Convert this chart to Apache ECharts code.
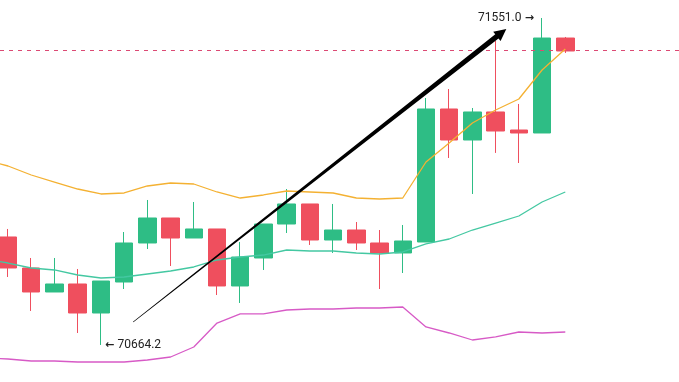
<!DOCTYPE html>
<html>
<head>
<meta charset="utf-8">
<script src="https://cdn.jsdelivr.net/npm/echarts@6/dist/echarts.min.js"></script>
<style>html,body{margin:0;padding:0;background:#fff;}#c{width:679px;height:382px;}</style>
</head>
<body>
<div id="c"></div>
<script>
// ---- data ----
const categories = ['09:00','09:15','09:30','09:45','10:00','10:15','10:30','10:45','11:00','11:15','11:30','11:45','12:00','12:15','12:30','12:45','13:00','13:15','13:30','13:45','14:00','14:15','14:30','14:45','15:00','15:15','15:30','15:45','16:00','16:15','16:30'];
// [open, close, low, high]
const candles = [
  [70990.0, 70957.1, 70930.0, 71005.0],
  [70957.1, 70873.0, 70848.6, 70978.8],
  [70873.0, 70807.9, 70756.4, 70900.1],
  [70807.9, 70829.6, 70807.9, 70900.1],
  [70829.6, 70750.9, 70696.7, 70870.3],
  [70750.9, 70837.7, 70664.2, 70837.7],
  [70835.0, 70940.8, 70816.0, 70970.6],
  [70940.8, 71008.6, 70924.5, 71057.4],
  [71008.6, 70954.3, 70878.4, 71008.6],
  [70954.3, 70978.8, 70954.3, 71052.0],
  [70978.8, 70824.2, 70799.7, 70978.8],
  [70824.2, 70902.8, 70778.1, 70943.5],
  [70900.1, 70992.3, 70867.6, 70992.3],
  [70992.3, 71046.6, 70967.9, 71087.2],
  [71046.6, 70948.9, 70935.4, 71046.6],
  [70948.9, 70976.0, 70913.7, 71046.6],
  [70976.0, 70940.8, 70921.8, 70997.7],
  [70940.8, 70913.7, 70816.0, 70976.0],
  [70913.7, 70946.2, 70859.4, 70989.6],
  [70943.5, 71304.2, 70943.5, 71334.0],
  [71304.2, 71220.1, 71171.3, 71358.4],
  [71220.1, 71296.1, 71073.7, 71306.9],
  [71296.1, 71244.5, 71185.1, 71488.6],
  [71247.2, 71239.1, 71157.7, 71317.8],
  [71239.1, 71496.7, 71239.1, 71551.0],
  [71496.7, 71461.5, 71456.1, 71499.5]
];
const midBand = [70897.4, 70886.5, 70873.0, 70867.6, 70854.0, 70845.9, 70848.6, 70856.7, 70864.8, 70875.7, 70894.7, 70902.8, 70908.2, 70921.8, 70919.1, 70919.1, 70913.7, 70911.0, 70916.4, 70938.1, 70951.6, 70976.0, 70995.0, 71014.0, 71052.0, 71079.1];
const upperBand = [71165.9, 71149.6, 71125.2, 71106.2, 71087.2, 71073.7, 71076.4, 71095.4, 71103.5, 71100.8, 71079.1, 71062.8, 71071.0, 71081.8, 71079.1, 71076.4, 71062.8, 71060.1, 71062.8, 71160.5, 71212.0, 71266.3, 71301.5, 71331.3, 71410.0, 71466.9];
const lowerBand = [70628.9, 70626.2, 70620.8, 70620.8, 70618.1, 70618.1, 70618.1, 70623.5, 70631.6, 70658.7, 70723.7, 70748.4, 70748.4, 70759.1, 70761.8, 70761.8, 70764.5, 70764.5, 70767.2, 70713.0, 70696.7, 70677.7, 70685.9, 70699.4, 70696.7, 70699.4];
const highMark = { index: 24, value: 71551.0, text: '71551.0', arrow: '\u2192' };
const lowMark = { index: 5, value: 70664.2, text: '70664.2', arrow: '\u2190' };
const lastPrice = 71461.5;
// trend arrow drawn by hand on the chart: [category position, price]
const arrowStart = [6.39, 70726.5];
const arrowEnd = [22.46, 71521.2];
const legendTexts = ['MID:71079.1', 'UP:71466.9', 'DN:70699.4'];

const UP = '#2ebd85', DOWN = '#ef4f5e';
const labelRich = {
  t: { color: '#222', fontSize: 12, fontFamily: 'Roboto' },
  a: { color: '#222', fontSize: 11, fontFamily: 'DejaVu Sans', fontWeight: 'bold' }
};
const chart = echarts.init(document.getElementById('c'), null, { renderer: 'canvas' });
const option = {
  animation: false,
  backgroundColor: '#ffffff',
  grid: { left: -26.8, right: -14, top: 0, bottom: 0, outerBoundsMode: 'none', containLabel: false },
  xAxis: { type: 'category', data: categories, boundaryGap: true, show: false },
  yAxis: { type: 'value', min: 70563.8, max: 71599.8, show: false, splitLine: { show: false } },
  series: [
    {
      type: 'candlestick', data: candles, barWidth: 18,
      itemStyle: { color: UP, color0: DOWN, borderColor: UP, borderColor0: DOWN, borderWidth: 1 },
      markPoint: {
        symbol: 'circle', symbolSize: 0, silent: true,
        data: [
          { coord: [highMark.index, highMark.value], label: { show: true, position: 'left', distance: 8, formatter: '{t|' + highMark.text + '} {a|' + highMark.arrow + '}', rich: labelRich } },
          { coord: [lowMark.index, lowMark.value], label: { show: true, position: 'right', distance: 4, formatter: '{a|' + lowMark.arrow + '} {t|' + lowMark.text + '}', rich: labelRich } }
        ]
      }
    },
    { type: 'line', data: midBand, symbol: 'none', lineStyle: { color: '#44c8a2', width: 1.3 } },
    { type: 'line', data: upperBand, symbol: 'none', lineStyle: { color: '#f4b132', width: 1.3 } },
    { type: 'line', data: lowerBand, symbol: 'none', lineStyle: { color: '#d75ac6', width: 1.3 } }
  ]
};
chart.setOption(option);

function toPx(pt) {
  const i0 = Math.floor(pt[0]);
  const a = chart.convertToPixel({ gridIndex: 0 }, [i0, pt[1]]);
  const b = chart.convertToPixel({ gridIndex: 0 }, [i0 + 1, pt[1]]);
  const f = pt[0] - i0;
  return [a[0] + (b[0] - a[0]) * f, a[1]];
}
const p0 = toPx(arrowStart), p1 = toPx(arrowEnd);
const dx = p1[0] - p0[0], dy = p1[1] - p0[1];
const len = Math.sqrt(dx * dx + dy * dy);
const ux = dx / len, uy = dy / len, nx = -uy, ny = ux;
const headLen = 12, headW = 6, shaftEnd = 2.6, shaftStart = 0.3;
const hb = [p1[0] - ux * headLen, p1[1] - uy * headLen];
const pts = [
  [p0[0] + nx * shaftStart, p0[1] + ny * shaftStart],
  [hb[0] + nx * shaftEnd, hb[1] + ny * shaftEnd],
  [hb[0] + nx * headW, hb[1] + ny * headW],
  [p1[0], p1[1]],
  [hb[0] - nx * headW, hb[1] - ny * headW],
  [hb[0] - nx * shaftEnd, hb[1] - ny * shaftEnd],
  [p0[0] - nx * shaftStart, p0[1] - ny * shaftStart]
];
const lastY = Math.floor(chart.convertToPixel({ yAxisIndex: 0 }, lastPrice));
const legendColors = ['#44c8a2', '#f4b132', '#d75ac6'];
const legendX = [0, 69, 137];
const dashes = [];
for (let x = 0; x < 679; x += 9) {
  dashes.push({ type: 'rect', shape: { x: x, y: lastY, width: 4, height: 1 }, style: { fill: '#dc4a74' }, z: 50, silent: true });
}
chart.setOption({
  graphic: dashes.concat([
    { type: 'polygon', shape: { points: pts }, style: { fill: '#000' }, z: 100 }
  ]).concat(legendTexts.map((t, k) => ({
    type: 'text', x: legendX[k], y: -9,
    style: { text: t, fill: legendColors[k], fontSize: 12, fontFamily: 'Roboto' }, z: 100
  })))
});
</script>
</body>
</html>
